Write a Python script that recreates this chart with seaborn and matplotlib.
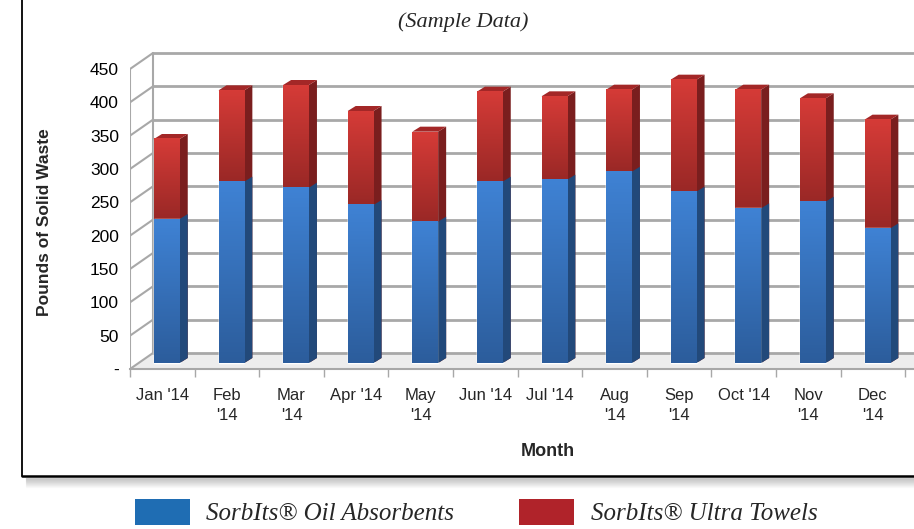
import numpy as np
import pandas as pd
import matplotlib
matplotlib.use("Agg")
import matplotlib.pyplot as plt
import seaborn as sns
from matplotlib.patches import Polygon, Patch
from matplotlib.lines import Line2D

# data
months = ["Jan '14", "Feb\n'14", "Mar\n'14", "Apr '14", "May\n'14", "Jun '14",
          "Jul '14", "Aug\n'14", "Sep\n'14", "Oct '14", "Nov\n'14", "Dec\n'14"]
oil = [216, 272, 263, 237, 212, 272, 275, 287, 257, 232, 242, 202]
towels = [120, 137, 154, 141, 135, 135, 125, 123, 168, 178, 155, 163]
yticks = [0, 50, 100, 150, 200, 250, 300, 350, 400, 450]
ytick_labels = ["-", "50", "100", "150", "200", "250", "300", "350", "400", "450"]
series_names = ["SorbIts® Oil Absorbents", "SorbIts® Ultra Towels"]

df = pd.DataFrame({"month": months, "oil": oil, "towels": towels})
df["total"] = df["oil"] + df["towels"]

BLUE, BLUE_TOP, BLUE_BOT, BLUE_SIDE = "#1f6db3", "#3f82d4", "#2c5d9c", "#22497a"
RED, RED_TOP, RED_BOT, RED_SIDE, RED_CAP = "#b0232a", "#d53b37", "#9a2826", "#7a1e1e", "#a32727"
GRID = "#a8a8a8"
SERIF = ["Liberation Serif", "DejaVu Serif"]

sns.set_theme(style="white")
plt.rcParams["font.family"] = ["Liberation Sans", "DejaVu Sans"]

W, H = 914, 529
fig = plt.figure(figsize=(W / 100, H / 100), dpi=100)
ax = fig.add_axes([130 / W, (H - 371) / H, (W - 130) / W, 328 / H])

sns.barplot(data=df, x="month", y="total", color=RED, width=0.4, saturation=1,
            ax=ax, zorder=3)
sns.barplot(data=df, x="month", y="oil", color=BLUE, width=0.4, saturation=1,
            ax=ax, zorder=4)

xmax = -0.5 + (W - 130) / 64.6
bdx, bdy, fdy = 0.356, 15, -9      # back wall / front plane offsets
dx, dy = 0.124, 7.5                 # bar depth

red_bars = ax.patches[:12]
blue_bars = ax.patches[12:24]
for p in list(red_bars) + list(blue_bars):
    p.set_x(p.get_x() + 0.07)


def grad(x0, x1, y0, y1, c_top, c_bot, z):
    cm = matplotlib.colors.LinearSegmentedColormap.from_list("g", [c_bot, c_top])
    ax.imshow(np.linspace(0, 1, 64).reshape(-1, 1), cmap=cm, origin="lower",
              extent=(x0, x1, y0, y1), aspect="auto", zorder=z)


for rp, bp in zip(red_bars, blue_bars):
    x0, x1 = rp.get_x(), rp.get_x() + rp.get_width()
    tot, lo = rp.get_height(), bp.get_height()
    grad(x0, x1, lo, tot, RED_TOP, RED_BOT, 3.1)
    grad(x0, x1, 0, lo, BLUE_TOP, BLUE_BOT, 4.1)
    ax.add_patch(Polygon([(x1, 0), (x1 + dx, dy), (x1 + dx, tot + dy), (x1, tot)],
                         fc=RED_SIDE, ec="none", zorder=3))
    ax.add_patch(Polygon([(x0, tot), (x0 + dx, tot + dy), (x1 + dx, tot + dy), (x1, tot)],
                         fc=RED_CAP, ec="none", zorder=3))
    ax.add_patch(Polygon([(x1, 0), (x1 + dx, dy), (x1 + dx, lo + dy), (x1, lo)],
                         fc=BLUE_SIDE, ec="none", zorder=4))

# back wall grid and floor
for t in yticks:
    ax.plot([-0.5 + bdx, xmax], [t + bdy, t + bdy], color=GRID, lw=2, zorder=1)
    ax.plot([-0.5, -0.5 + bdx], [t + fdy, t + bdy], color=GRID, lw=1.5, zorder=1)
ax.plot([-0.5, -0.5], [fdy, 450 + fdy], color=GRID, lw=1.5, zorder=1)
ax.plot([-0.5 + bdx, -0.5 + bdx], [bdy, 450 + bdy], color=GRID, lw=1.5, zorder=1)
ax.add_patch(Polygon([(-0.5, fdy), (xmax, fdy), (xmax, bdy), (-0.5 + bdx, bdy)],
                     fc="#ededed", ec="none", zorder=0.5))

ax.set_xlim(-0.5, xmax)
ax.set_ylim(-12, 480)

ax.set_yticks([t + fdy for t in yticks], ytick_labels)
ax.tick_params(axis="y", length=0, pad=8, labelsize=12.5, colors="black")
ax.set_xticks(range(len(months)), months)
ax.set_xticks(np.arange(-0.5, len(months)), minor=True)
ax.tick_params(axis="x", which="major", length=0, pad=13.5, labelsize=12)
ax.tick_params(axis="x", which="minor", length=6, width=1, color=GRID,
               direction="out", bottom=True)
for s in ["left", "right", "top"]:
    ax.spines[s].set_visible(False)
ax.spines["bottom"].set_position(("data", fdy))
ax.spines["bottom"].set_color(GRID)
ax.spines["bottom"].set_linewidth(1.5)
ax.set_xlabel("")
ax.set_ylabel("")

fig.text(45 / W, 1 - 222 / H, "Pounds of Solid Waste", rotation=90, ha="center",
         va="center", fontsize=12.5, fontweight="bold")
fig.text(548 / W, 1 - 451 / H, "Month", ha="center", va="center",
         fontsize=13, fontweight="bold")
fig.text(463 / W, 1 - 22 / H, "(Sample Data)", ha="center", va="center",
         fontsize=16, style="italic", family=SERIF)

# outer frame with shadow
for i in range(10):
    fig.add_artist(Line2D([26 / W, 1], [1 - (478 + i) / H] * 2, color="black",
                          lw=1, alpha=0.18 * (1 - i / 10)))
fig.add_artist(Line2D([22 / W, 22 / W], [1 - 476 / H, 1], color="black", lw=1.3))
fig.add_artist(Line2D([22 / W, 1], [1 - 476 / H] * 2, color="black", lw=1.8))

handles = [Patch(fc=BLUE, ec="none"), Patch(fc=RED, ec="none")]
fig.legend(handles, series_names, loc="center", bbox_to_anchor=(0.521, 1 - 512 / H),
           ncol=2, frameon=False, handlelength=2.2, handleheight=1.25,
           handletextpad=0.65, columnspacing=2.6,
           prop={"family": SERIF, "style": "italic", "size": 18})

# two-line month labels sit a bit looser in the original
fig.canvas.draw()
for lab in ax.get_xticklabels():
    lab.set_linespacing(1.45)

fig.savefig("out.png", dpi=100)
